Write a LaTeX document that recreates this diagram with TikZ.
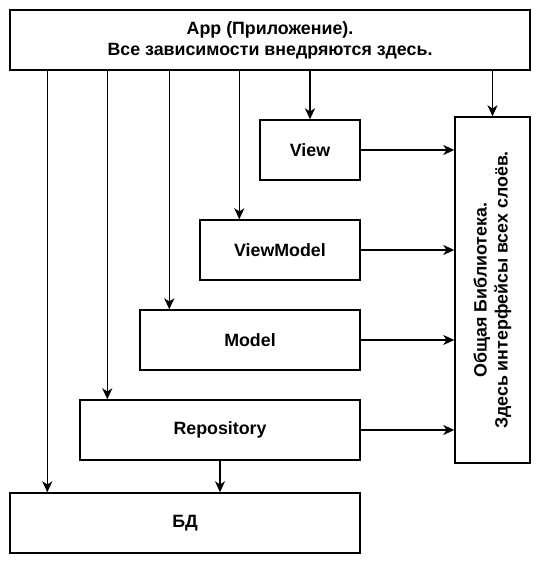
\documentclass[tikz,border=0pt]{standalone}
\usepackage{fontspec}
\setmainfont{Liberation Sans}
\usetikzlibrary{arrows.meta}
\begin{document}
\begin{tikzpicture}[x=0.5pt,y=-0.5pt,
  box/.style={draw, line width=0.7pt, font=\fontsize{8.9}{10.5}\selectfont\bfseries, align=center, inner sep=0pt, minimum height=30pt},
  arr/.style={line width=0.7pt, -{Stealth[length=5.5pt,width=5pt,inset=1.6pt]}}]
\useasboundingbox (0,0) rectangle (543,567);
\node[box, minimum width=260pt] (App) at (270,40) {App (Приложение).\\Все зависимости внедряются здесь.};
\node[box, minimum width=50pt] (View) at (310,150) {View};
\node[box, minimum width=80pt] (VM) at (280,250) {ViewModel};
\node[box, minimum width=110pt] (Model) at (250,340) {Model};
\node[box, minimum width=140pt] (Repo) at (220,430) {Repository};
\node[box, minimum width=175pt] (DB) at (185,523) {БД};
\node[box, rotate=90, minimum width=173pt, minimum height=37.5pt] (Lib) at (492.5,290) {Общая Библиотека.\\Здесь интерфейсы всех слоёв.};
% arrows from App
\draw[arr] ([xshift=19pt]DB.north west |- App.south) -- ([xshift=19pt]DB.north west);
\draw[arr] ([xshift=14pt]Repo.north west |- App.south) -- ([xshift=14pt]Repo.north west);
\draw[arr] ([xshift=15pt]Model.north west |- App.south) -- ([xshift=15pt]Model.north west);
\draw[arr] ([xshift=20pt]VM.north west |- App.south) -- ([xshift=20pt]VM.north west);
\draw[arr] (View.north |- App.south) -- (View.north);
\draw[arr] (Lib.east |- App.south) -- (Lib.east);
% arrows to Lib
\draw[arr] (View.east) -- (View.east -| Lib.north);
\draw[arr] (VM.east) -- (VM.east -| Lib.north);
\draw[arr] (Model.east) -- (Model.east -| Lib.north);
\draw[arr] (Repo.east) -- (Repo.east -| Lib.north);
% Repo to DB
\draw[arr] (Repo.south) -- (Repo.south |- DB.north);
\end{tikzpicture}
\end{document}
